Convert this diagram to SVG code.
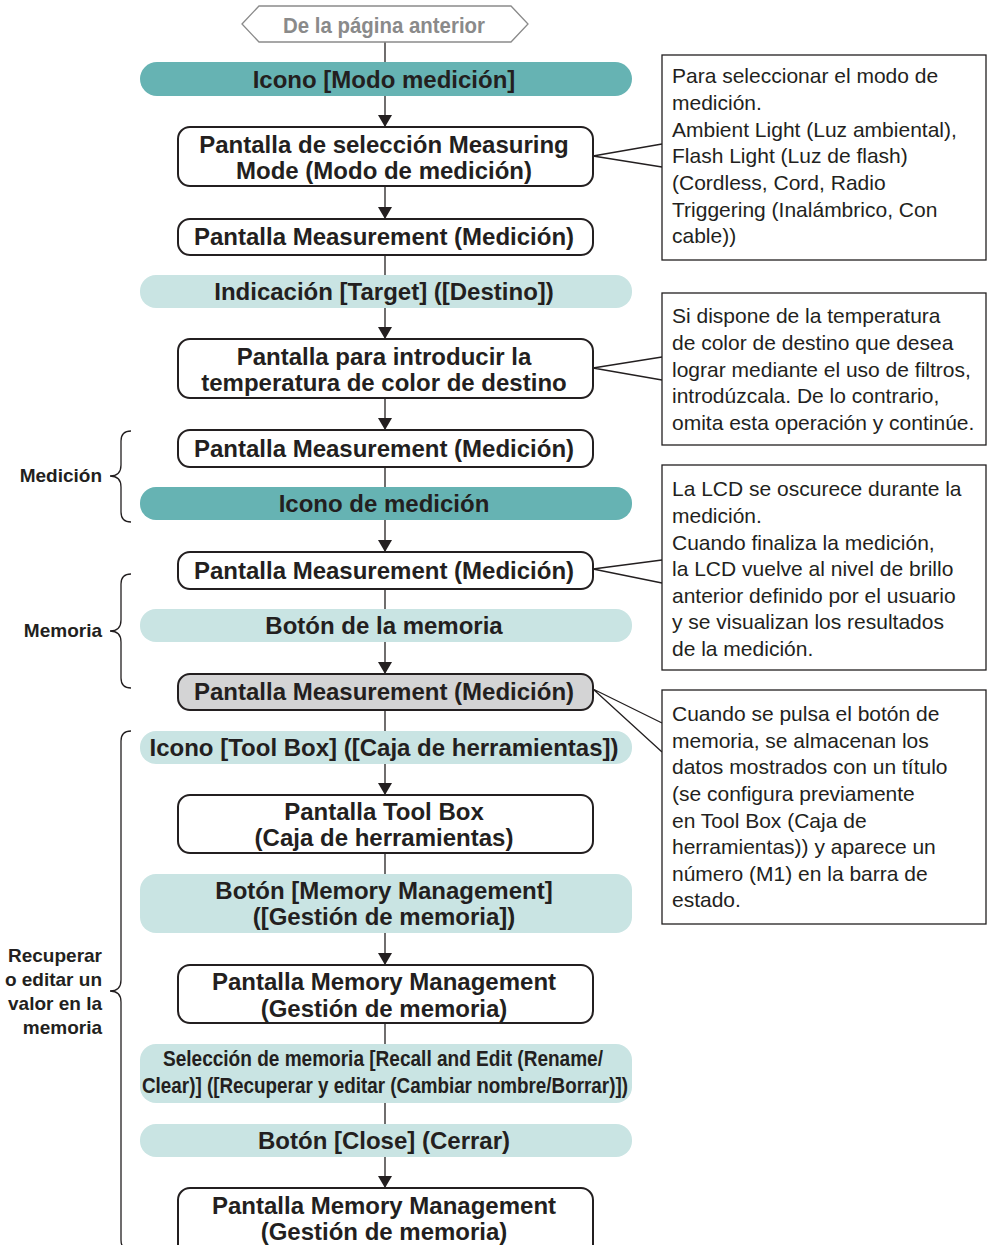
<svg xmlns="http://www.w3.org/2000/svg" width="991" height="1245" viewBox="0 0 991 1245">
<style>
.t{font-family:"Liberation Sans",Arial,sans-serif;font-weight:bold;font-size:24px;fill:#231f20;text-anchor:middle}
.n{font-family:"Liberation Sans Narrow","Liberation Sans",Arial,sans-serif;font-weight:bold;font-size:22px;fill:#231f20;text-anchor:middle}
.note{font-family:"Liberation Sans",Arial,sans-serif;font-size:21px;fill:#231f20}
.lab{font-family:"Liberation Sans",Arial,sans-serif;font-weight:bold;font-size:19px;fill:#231f20;text-anchor:end}
.box{fill:#fff;stroke:#231f20;stroke-width:2}
.gbox{fill:#d4d4d5;stroke:#231f20;stroke-width:2}
.dk{fill:#66b3b3}
.lt{fill:#c9e4e3}
.nb{fill:#fff;stroke:#231f20;stroke-width:1.3}
.ln{fill:none;stroke:#231f20;stroke-width:1.3}
</style>
<defs>
<marker id="ah" markerWidth="12" markerHeight="14" refX="12" refY="7" orient="auto" markerUnits="userSpaceOnUse">
<path d="M0,0 L12,7 L0,14 z" fill="#231f20"/>
</marker>
</defs>

<g id="connectors">
<line class="ln" x1="385" y1="42" x2="385" y2="127" marker-end="url(#ah)"/>
<line class="ln" x1="385" y1="186" x2="385" y2="219" marker-end="url(#ah)"/>
<line class="ln" x1="385" y1="255" x2="385" y2="339" marker-end="url(#ah)"/>
<line class="ln" x1="385" y1="398" x2="385" y2="430" marker-end="url(#ah)"/>
<line class="ln" x1="385" y1="467" x2="385" y2="552" marker-end="url(#ah)"/>
<line class="ln" x1="385" y1="589" x2="385" y2="674" marker-end="url(#ah)"/>
<line class="ln" x1="385" y1="710" x2="385" y2="795" marker-end="url(#ah)"/>
<line class="ln" x1="385" y1="853" x2="385" y2="965" marker-end="url(#ah)"/>
<line class="ln" x1="385" y1="1023" x2="385" y2="1188" marker-end="url(#ah)"/>
<polyline class="ln" points="662,144 593,156 662,167"/>
<polyline class="ln" points="662,357 593,368 662,380"/>
<polyline class="ln" points="662,560 593,569 662,583"/>
<polyline class="ln" points="662,723 593,689 662,752"/>
</g>

<g id="n-prev">
<polygon points="242,24 259,6 511,6 528,24 511,42 259,42" fill="#fff" stroke="#8a8a8a" stroke-width="1.3"/>
<text class="n" x="384" y="33" style="fill:#8a8a8a" textLength="202" lengthAdjust="spacingAndGlyphs">De la página anterior</text>
</g>

<g id="n1">
<rect class="dk" x="140" y="62" width="492" height="34" rx="17"/>
<text class="t" x="384" y="88">Icono [Modo medición]</text>
</g>
<g id="n2">
<rect class="box" x="178" y="127" width="415" height="59" rx="12"/>
<text class="t" x="384" y="153">Pantalla de selección Measuring</text>
<text class="t" x="384" y="179">Mode (Modo de medición)</text>
</g>
<g id="n3">
<rect class="box" x="178" y="219" width="415" height="36" rx="12"/>
<text class="t" x="384" y="245">Pantalla Measurement (Medición)</text>
</g>
<g id="n4">
<rect class="lt" x="140" y="275" width="492" height="33" rx="16"/>
<text class="t" x="384" y="300">Indicación [Target] ([Destino])</text>
</g>
<g id="n5">
<rect class="box" x="178" y="339" width="415" height="59" rx="12"/>
<text class="t" x="384" y="365">Pantalla para introducir la</text>
<text class="t" x="384" y="391">temperatura de color de destino</text>
</g>
<g id="n6">
<rect class="box" x="178" y="430" width="415" height="37" rx="12"/>
<text class="t" x="384" y="457">Pantalla Measurement (Medición)</text>
</g>
<g id="n7">
<rect class="dk" x="140" y="487" width="492" height="33" rx="16"/>
<text class="t" x="384" y="512">Icono de medición</text>
</g>
<g id="n8">
<rect class="box" x="178" y="552" width="415" height="37" rx="12"/>
<text class="t" x="384" y="579">Pantalla Measurement (Medición)</text>
</g>
<g id="n9">
<rect class="lt" x="140" y="609" width="492" height="33" rx="16"/>
<text class="t" x="384" y="634">Botón de la memoria</text>
</g>
<g id="n10">
<rect class="gbox" x="178" y="674" width="415" height="36" rx="12"/>
<text class="t" x="384" y="700">Pantalla Measurement (Medición)</text>
</g>
<g id="n11">
<rect class="lt" x="140" y="731" width="492" height="33" rx="16"/>
<text class="t" x="384" y="756">Icono [Tool Box] ([Caja de herramientas])</text>
</g>
<g id="n12">
<rect class="box" x="178" y="795" width="415" height="58" rx="12"/>
<text class="t" x="384" y="820">Pantalla Tool Box</text>
<text class="t" x="384" y="846">(Caja de herramientas)</text>
</g>
<g id="n13">
<rect class="lt" x="140" y="874" width="492" height="59" rx="16"/>
<text class="t" x="384" y="899">Botón [Memory Management]</text>
<text class="t" x="384" y="925">([Gestión de memoria])</text>
</g>
<g id="n14">
<rect class="box" x="178" y="965" width="415" height="58" rx="12"/>
<text class="t" x="384" y="990">Pantalla Memory Management</text>
<text class="t" x="384" y="1017">(Gestión de memoria)</text>
</g>
<g id="n15">
<rect class="lt" x="140" y="1044" width="492" height="59" rx="16"/>
<text class="n" x="383" y="1066" textLength="440" lengthAdjust="spacingAndGlyphs">Selección de memoria [Recall and Edit (Rename/</text>
<text class="n" x="385" y="1093" textLength="486" lengthAdjust="spacingAndGlyphs">Clear)] ([Recuperar y editar (Cambiar nombre/Borrar)])</text>
</g>
<g id="n16">
<rect class="lt" x="140" y="1124" width="492" height="33" rx="16"/>
<text class="t" x="384" y="1149">Botón [Close] (Cerrar)</text>
</g>
<g id="n17">
<rect class="box" x="178" y="1188" width="415" height="70" rx="12"/>
<text class="t" x="384" y="1214">Pantalla Memory Management</text>
<text class="t" x="384" y="1240">(Gestión de memoria)</text>
</g>

<g id="note1">
<rect class="nb" x="662" y="55" width="324" height="205"/>
<text class="note" x="672" y="83">Para seleccionar el modo de</text>
<text class="note" x="672" y="110">medición.</text>
<text class="note" x="672" y="137">Ambient Light (Luz ambiental),</text>
<text class="note" x="672" y="163">Flash Light (Luz de flash)</text>
<text class="note" x="672" y="190">(Cordless, Cord, Radio</text>
<text class="note" x="672" y="217">Triggering (Inalámbrico, Con</text>
<text class="note" x="672" y="243">cable))</text>
</g>
<g id="note2">
<rect class="nb" x="662" y="293" width="324" height="152"/>
<text class="note" x="672" y="323">Si dispone de la temperatura</text>
<text class="note" x="672" y="350">de color de destino que desea</text>
<text class="note" x="672" y="377">lograr mediante el uso de filtros,</text>
<text class="note" x="672" y="403">introdúzcala. De lo contrario,</text>
<text class="note" x="672" y="430">omita esta operación y continúe.</text>
</g>
<g id="note3">
<rect class="nb" x="662" y="465" width="324" height="205"/>
<text class="note" x="672" y="496">La LCD se oscurece durante la</text>
<text class="note" x="672" y="523">medición.</text>
<text class="note" x="672" y="550">Cuando finaliza la medición,</text>
<text class="note" x="672" y="576">la LCD vuelve al nivel de brillo</text>
<text class="note" x="672" y="603">anterior definido por el usuario</text>
<text class="note" x="672" y="629">y se visualizan los resultados</text>
<text class="note" x="672" y="656">de la medición.</text>
</g>
<g id="note4">
<rect class="nb" x="662" y="690" width="324" height="234"/>
<text class="note" x="672" y="721">Cuando se pulsa el botón de</text>
<text class="note" x="672" y="748">memoria, se almacenan los</text>
<text class="note" x="672" y="774">datos mostrados con un título</text>
<text class="note" x="672" y="801">(se configura previamente</text>
<text class="note" x="672" y="828">en Tool Box (Caja de</text>
<text class="note" x="672" y="854">herramientas)) y aparece un</text>
<text class="note" x="672" y="881">número (M1) en la barra de</text>
<text class="note" x="672" y="907">estado.</text>
</g>

<g id="brace-medicion">
<path class="ln" d="M131,431 Q121,431 121,441 L121,465 Q121,476 110,476 Q121,476 121,487 L121,512 Q121,522 131,522"/>
<text class="lab" x="102" y="482">Medición</text>
</g>
<g id="brace-memoria">
<path class="ln" d="M131,574 Q121,574 121,584 L121,620 Q121,631 110,631 Q121,631 121,642 L121,678 Q121,688 131,688"/>
<text class="lab" x="102" y="637">Memoria</text>
</g>
<g id="brace-recuperar">
<path class="ln" d="M131,731 Q121,731 121,741 L121,980 Q121,991 110,991 Q121,991 121,1002 L121,1240 Q121,1250 131,1250"/>
<text class="lab" x="102" y="962">Recuperar</text>
<text class="lab" x="102" y="986">o editar un</text>
<text class="lab" x="102" y="1010">valor en la</text>
<text class="lab" x="102" y="1034">memoria</text>
</g>
</svg>
